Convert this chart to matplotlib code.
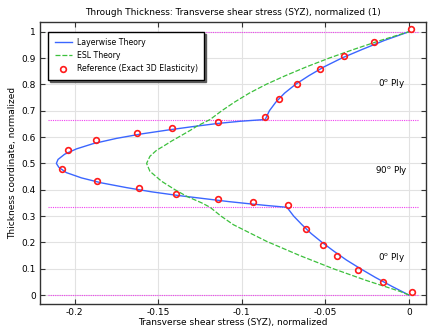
import matplotlib
matplotlib.use("Agg")
import matplotlib.pyplot as plt

plt.rcParams["font.family"] = ["DejaVu Sans"]
plt.rcParams["axes.unicode_minus"] = False

# Layerwise theory: normalized thickness coordinate and shear stress
lw_z = [0.000, 0.033, 0.067, 0.100, 0.133, 0.167, 0.200, 0.233, 0.267, 0.300, 0.3333,
        0.340, 0.347, 0.355, 0.365, 0.378, 0.392, 0.408, 0.426, 0.445, 0.465, 0.485,
        0.500, 0.515, 0.535, 0.555, 0.575, 0.595, 0.612, 0.627, 0.640, 0.652, 0.660,
        0.6667, 0.700, 0.733, 0.767, 0.800, 0.833, 0.867, 0.900, 0.933, 0.967, 1.000]
lw_s = [0.0000, -0.0102, -0.0201, -0.0290, -0.0374, -0.0450, -0.0520, -0.0584, -0.0640,
        -0.0690, -0.0730,
        -0.0850, -0.0960, -0.1080, -0.1210, -0.1380, -0.1540, -0.1690, -0.1840, -0.1960,
        -0.2050, -0.2095, -0.2110, -0.2100, -0.2060, -0.1990, -0.1890, -0.1750, -0.1600,
        -0.1440, -0.1290, -0.1140, -0.1010,
        -0.0860, -0.0835, -0.0796, -0.0744, -0.0679, -0.0599, -0.0507, -0.0402, -0.0279,
        -0.0147, 0.0000]

# Equivalent single layer theory
esl_z = [0.000, 0.014, 0.055, 0.100, 0.150, 0.204, 0.267, 0.300, 0.3333,
         0.350, 0.375, 0.400, 0.432, 0.470, 0.500, 0.527, 0.550, 0.565, 0.585, 0.603,
         0.625, 0.641,
         0.6667, 0.700, 0.733, 0.767, 0.800, 0.833, 0.867, 0.900, 0.933, 0.967, 1.000]
esl_s = [0.0000, -0.0054, -0.0253, -0.0453, -0.0653, -0.0852, -0.1050, -0.1125, -0.1190,
         -0.1240, -0.1330, -0.1400, -0.1480, -0.1550, -0.1570, -0.1550, -0.1510, -0.1470,
         -0.1420, -0.1370, -0.1310, -0.1270,
         -0.1190, -0.1120, -0.1043, -0.0955, -0.0855, -0.0740, -0.0612, -0.0477, -0.0330,
         -0.0170, 0.0000]

# Exact 3D elasticity reference values
ref_z = [0.010, 0.049, 0.096, 0.147, 0.191, 0.251, 0.341,
         0.352, 0.365, 0.385, 0.405, 0.432, 0.478, 0.550, 0.588, 0.616, 0.633, 0.658,
         0.675, 0.743, 0.803, 0.858, 0.906, 0.962, 1.010]
ref_s = [0.0018, -0.0154, -0.0307, -0.0429, -0.0517, -0.0617, -0.0725,
         -0.0932, -0.1142, -0.1392, -0.1616, -0.1868, -0.2078, -0.2040, -0.1872, -0.1626,
         -0.1416, -0.1142,
         -0.0860, -0.0780, -0.0669, -0.0533, -0.0387, -0.0210, 0.0012]

# Ply interfaces and ply labels
interfaces = [0.0, 1.0 / 3.0, 2.0 / 3.0, 1.0]
ply_labels = ["0$^\\mathrm{o}$ Ply", "90$^\\mathrm{o}$ Ply", "0$^\\mathrm{o}$ Ply"]
ply_label_z = [0.143, 0.474, 0.804]

fig = plt.figure(figsize=(4.36, 3.26), dpi=100)
ax = fig.add_axes([0.0917, 0.0675, 0.8853, 0.865])

for z in interfaces:
    ax.plot([-0.216, 0.006], [z, z], color="#f040f0", lw=0.8, ls=(0, (1, 1)), zorder=2)

ax.plot(lw_s, lw_z, color="#3b66ff", lw=1.0, label="Layerwise Theory", zorder=3)
ax.plot(esl_s, esl_z, color="#3cc03c", lw=0.9, ls=(0, (4, 1.5)), label="ESL Theory", zorder=3)
ax.plot(ref_s, ref_z, ls="none", marker="o", ms=4.1, mfc="none", mec="#ff1a1a", mew=1.2,
        label="Reference (Exact 3D Elasticity)", zorder=4)

for txt, z in zip(ply_labels, ply_label_z):
    ax.text(-0.0104, z, txt, ha="center", va="center", fontsize=6.3)

ax.set_xlim(-0.2208, 0.0102)
ax.set_ylim(-0.034, 1.037)
ax.set_xticks([-0.2, -0.15, -0.1, -0.05, 0])
ax.set_xticklabels(["-0.2", "-0.15", "-0.1", "-0.05", "0"])
ax.set_yticks([0, 0.1, 0.2, 0.3, 0.4, 0.5, 0.6, 0.7, 0.8, 0.9, 1.0])
ax.set_yticklabels(["0", "0.1", "0.2", "0.3", "0.4", "0.5", "0.6", "0.7", "0.8", "0.9", "1"])
ax.tick_params(direction="in", length=3.5, width=0.8, labelsize=6.5, pad=3,
               top=True, right=True, color="#333333")
ax.grid(True, color="#e2e2e2", lw=0.8)
ax.set_axisbelow(True)
for sp in ax.spines.values():
    sp.set_color("#333333")
    sp.set_linewidth(1.0)

ax.set_title("Through Thickness: Transverse shear stress (SYZ), normalized (1)",
             fontsize=6.5, pad=5)
ax.set_xlabel("Transverse shear stress (SYZ), normalized", fontsize=6.5, labelpad=0.5)
ax.set_ylabel("Thickness coordinate, normalized", fontsize=6.5, labelpad=3)

leg = ax.legend(loc="upper left", bbox_to_anchor=(0.0215, 0.9656), borderaxespad=0,
                fontsize=5.6, fancybox=False,
                shadow={"ox": 1.5, "oy": -1.5, "color": "#444444", "alpha": 0.8},
                framealpha=1, edgecolor="black",
                handlelength=2.3, borderpad=0.8, labelspacing=0.55, handletextpad=0.6)
leg.get_frame().set_linewidth(1.0)

fig.savefig("out.png", dpi=100)
